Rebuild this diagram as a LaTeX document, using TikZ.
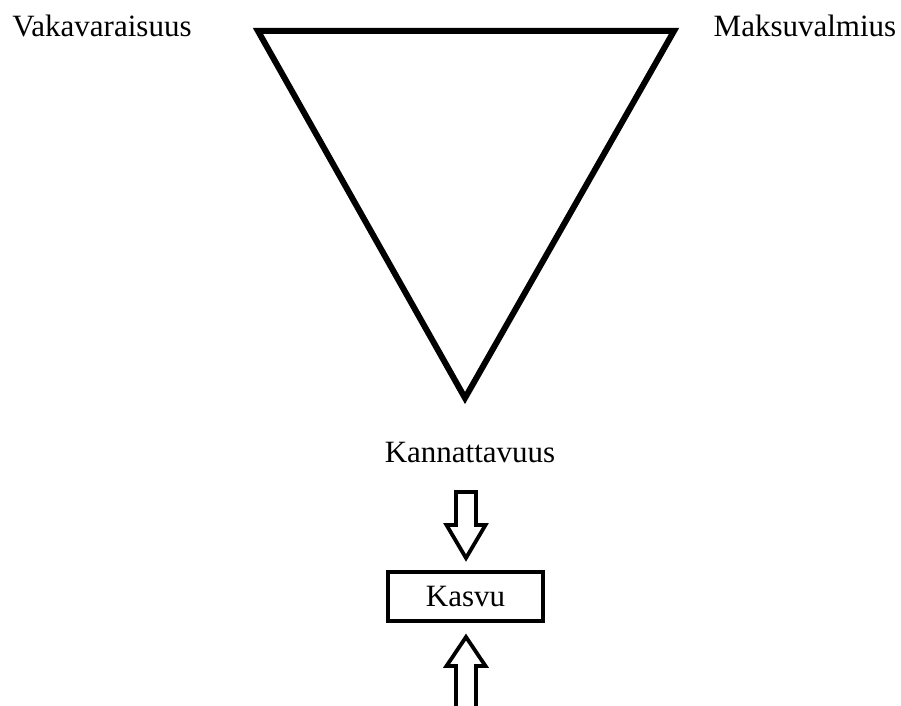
\documentclass[tikz,border=0pt]{standalone}
\usepackage{fontspec}
\setmainfont{Liberation Serif}
\usepackage{tikz}
\usetikzlibrary{positioning,calc}
\definecolor{inkblack}{RGB}{0, 0, 0}

\tikzset{
    label text/.style={font=\fontsize{15.5}{18}\selectfont, inner sep=0pt},
    growth box/.style={draw=inkblack, line width=2pt, minimum width=77.5pt, minimum height=24.5pt,
        font=\fontsize{15.5}{18}\selectfont, inner sep=0pt},
    block arrow/.style={draw=inkblack, line width=1.9pt, line join=miter}
}

\begin{document}
\begin{tikzpicture}[x=0.5pt, y=-0.5pt]
    \useasboundingbox (0,0) rectangle (901,706);

    \coordinate (V) at (258,31);
    \coordinate (M) at (674,31);
    \coordinate (K) at (465,398);

    \draw[line width=3pt, color=inkblack, line join=miter] (V) -- (M) -- (K) -- cycle;

    \node[label text] (vaka) at (102,26) {Vakavaraisuus};
    \node[label text] (maksu) at (805,26) {Maksuvalmius};
    \node[label text] (kanna) at (470,453) {Kannattavuus};

    \node[growth box] (kasvu) at (465.5,596.5) {Kasvu};

    % arrows in and out of the box
    \draw[block arrow] (456,492) -- (456,525) -- (446.5,525) -- (466,558)
        -- (485.5,525) -- (476,525) -- (476,492) -- cycle;
    \draw[block arrow] (456,706) -- (456,666) -- (446.5,666) -- (466,637)
        -- (485.5,666) -- (476,666) -- (476,706);
\end{tikzpicture}
\end{document}
